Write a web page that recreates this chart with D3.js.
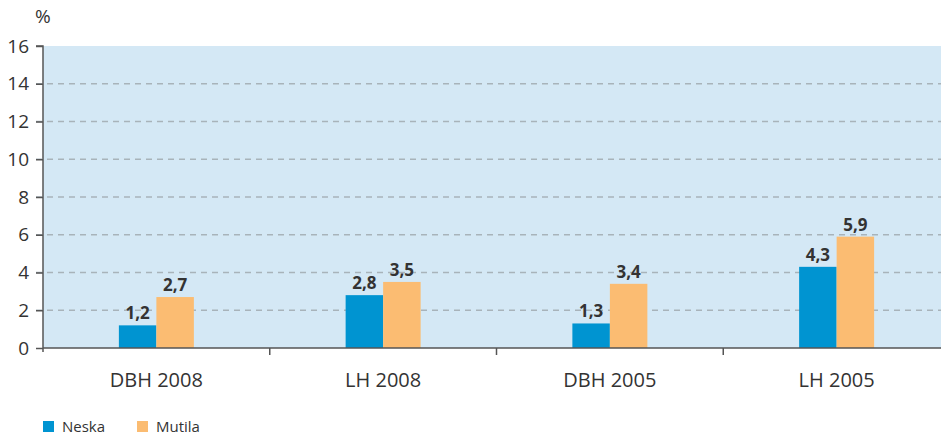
<!DOCTYPE html>
<html>
<head>
<meta charset="utf-8">
<script src="https://cdn.jsdelivr.net/npm/d3@7"></script>
<style>
  body { margin: 0; background: #fff; }
  svg text { font-family: 'Open Sans', 'Noto Sans', sans-serif; fill: #333; }
</style>
</head>
<body>
<div id="chart"></div>
<script>
const categories = ['DBH 2008', 'LH 2008', 'DBH 2005', 'LH 2005']
const seriesNames = ['Neska', 'Mutila']
const neska = [1.2, 2.8, 1.3, 4.3]
const mutila = [2.7, 3.5, 3.4, 5.9]
const yTicks = [0, 2, 4, 6, 8, 10, 12, 14, 16]
const colors = ['#0094d1', '#fbbc72']

const w = 941, h = 438
const margin = { left: 43, right: -9, top: 46, bottom: 90 }
const svg = d3.select('#chart').append('svg').attr('width', w).attr('height', h)

const x = d3.scaleBand().domain(categories).range([margin.left, w - margin.right])
const y = d3.scaleLinear().domain([0, 16]).range([h - margin.bottom, margin.top])
const barW = 37.5
const fmt = v => d3.format('.1f')(v).replace('.', ',')

// background
svg.append('rect')
  .attr('x', margin.left).attr('y', y(16))
  .attr('width', w - margin.left).attr('height', y(0) - y(16))
  .attr('fill', '#d4e8f5')

// grid
svg.append('g').selectAll('line')
  .data(yTicks.filter(d => d > 0 && d < 16)).enter().append('line')
  .attr('x1', 36).attr('x2', w)
  .attr('y1', d => y(d)).attr('y2', d => y(d))
  .attr('stroke', '#a8b3ba').attr('stroke-width', 1.5)
  .attr('stroke-dasharray', '6,5')

// y axis
const yAxis = svg.append('g')
  .attr('transform', `translate(${margin.left},0)`)
  .call(d3.axisLeft(y).tickValues(yTicks).tickSize(7).tickPadding(7))
yAxis.select('.domain').attr('stroke', '#555').attr('stroke-width', 1.5)
  .attr('d', `M-7,${y(16)}H0V${y(0) + 4}`)
yAxis.selectAll('.tick line').attr('stroke', '#555').attr('stroke-width', 1.5)
yAxis.selectAll('.tick text').style('font-size', '19px').attr('fill', '#333')

svg.append('text').text('%')
  .attr('x', 35).attr('y', 23).style('font-size', '19px')

// bars
const groups = svg.append('g').selectAll('g')
  .data(categories).enter().append('g')
  .attr('transform', d => `translate(${x(d) + x.bandwidth() / 2},0)`)

groups.each(function (c, i) {
  const g = d3.select(this)
  const vals = [neska[i], mutila[i]]
  vals.forEach((v, k) => {
    const bx = k === 0 ? -barW : 0
    g.append('rect')
      .attr('x', bx).attr('y', y(v))
      .attr('width', barW).attr('height', y(0) - y(v))
      .attr('fill', colors[k])
    g.append('text')
      .text(fmt(v))
      .attr('x', bx + barW / 2).attr('y', y(v) - 6)
      .attr('text-anchor', 'middle')
      .style('font-weight', 'bold').style('font-size', '17px').attr('fill', '#2b2b2b')
  })
})

// x axis baseline + separators
svg.append('line')
  .attr('x1', margin.left).attr('x2', w)
  .attr('y1', y(0)).attr('y2', y(0))
  .attr('stroke', '#555').attr('stroke-width', 1.5)
svg.append('g').selectAll('line')
  .data(categories.slice(1)).enter().append('line')
  .attr('x1', d => x(d)).attr('x2', d => x(d))
  .attr('y1', y(0)).attr('y2', y(0) + 7)
  .attr('stroke', '#555').attr('stroke-width', 1.5)
svg.append('g').selectAll('text')
  .data(categories).enter().append('text')
  .text(d => d)
  .attr('x', d => x(d) + x.bandwidth() / 2).attr('y', 387)
  .attr('text-anchor', 'middle').style('font-size', '20px')

// legend
const leg = svg.append('g').attr('transform', 'translate(43,421)')
seriesNames.forEach((n, k) => {
  const lg = leg.append('g').attr('transform', `translate(${k * 94},0)`)
  lg.append('rect').attr('width', 11).attr('height', 11).attr('fill', colors[k])
  lg.append('text').text(n).attr('x', 19).attr('y', 11).style('font-size', '15px')
})
</script>
</body>
</html>
